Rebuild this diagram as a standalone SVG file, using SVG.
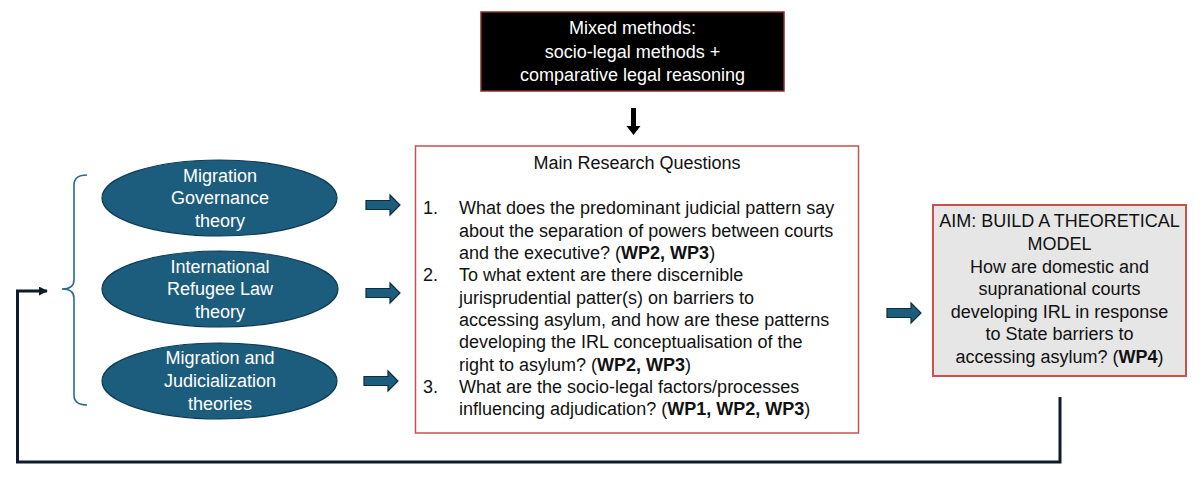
<svg xmlns="http://www.w3.org/2000/svg" width="1200" height="485" viewBox="0 0 1200 485">
<defs>
<style>
text{font-family:"Liberation Sans",Arial,sans-serif;font-size:18px;}
.c{text-anchor:middle;}
.w{fill:#ffffff;}
.k{fill:#111111;}
.b{font-weight:bold;}
.ell{fill:#1c5d7e;stroke:#0d3a52;stroke-width:1.2;}
.blk{fill:#1c5d7e;stroke:#0d2e40;stroke-width:1.2;}
</style>
<path id="barrow" d="M0,-4.5 H24 V-10 L34,0 L24,10 V4.5 H0 Z"/>
<marker id="ah" viewBox="0 0 10 10" refX="9" refY="5" markerWidth="3" markerHeight="3" orient="auto" markerUnits="strokeWidth">
<path d="M0,0 L10,5 L0,10 Z" fill="#0d1b2a"/>
</marker>
</defs>
<rect width="1200" height="485" fill="#ffffff"/>

<g id="methods">
<rect x="481" y="12" width="303" height="79" fill="#000000" stroke="#8b2b2b" stroke-width="1.5"/>
<text class="c w" x="632.5" y="34">Mixed methods:</text>
<text class="c w" x="632.5" y="58">socio-legal methods +</text>
<text class="c w" x="632.5" y="81">comparative legal reasoning</text>
</g>

<g id="theory-governance">
<ellipse class="ell" cx="219.5" cy="198" rx="117.5" ry="38"/>
<text class="c w" x="220" y="182">Migration</text>
<text class="c w" x="220" y="204">Governance</text>
<text class="c w" x="220" y="227">theory</text>
</g>

<g id="theory-irl">
<ellipse class="ell" cx="220" cy="289" rx="118" ry="38"/>
<text class="c w" x="220" y="273">International</text>
<text class="c w" x="220" y="295">Refugee Law</text>
<text class="c w" x="220" y="318">theory</text>
</g>

<g id="theory-judicialization">
<ellipse class="ell" cx="219.5" cy="381" rx="117.5" ry="38"/>
<text class="c w" x="220" y="364">Migration and</text>
<text class="c w" x="220" y="387">Judicialization</text>
<text class="c w" x="220" y="410">theories</text>
</g>

<g id="questions">
<rect x="415.5" y="146" width="443" height="287" fill="#ffffff" stroke="#c9504d" stroke-width="1.5"/>
<text class="c k" x="637" y="169">Main Research Questions</text>
<text class="k" x="423" y="214">1.</text>
<text class="k" x="459" y="214">What does the predominant judicial pattern say</text>
<text class="k" x="459" y="236.5">about the separation of powers between courts</text>
<text class="k" x="459" y="259">and the executive? (<tspan class="b">WP2, WP3</tspan>)</text>
<text class="k" x="423" y="281">2.</text>
<text class="k" x="459" y="281">To what extent are there discernible</text>
<text class="k" x="459" y="303.5">jurisprudential patter(s) on barriers to</text>
<text class="k" x="459" y="326">accessing asylum, and how are these patterns</text>
<text class="k" x="459" y="348">developing the IRL conceptualisation of the</text>
<text class="k" x="459" y="370.5">right to asylum? (<tspan class="b">WP2, WP3</tspan>)</text>
<text class="k" x="423" y="393">3.</text>
<text class="k" x="459" y="393">What are the socio-legal factors/processes</text>
<text class="k" x="459" y="415">influencing adjudication? (<tspan class="b">WP1, WP2, WP3</tspan>)</text>
</g>

<g id="aim">
<rect x="933" y="205" width="253" height="171" fill="#e7e6e6" stroke="#c9504d" stroke-width="2"/>
<text class="c k" x="1059.5" y="227">AIM: BUILD A THEORETICAL</text>
<text class="c k" x="1059.5" y="250">MODEL</text>
<text class="c k" x="1059.5" y="272.5">How are domestic and</text>
<text class="c k" x="1059.5" y="295">supranational courts</text>
<text class="c k" x="1059.5" y="317.5">developing IRL in response</text>
<text class="c k" x="1059.5" y="340">to State barriers to</text>
<text class="c k" x="1059.5" y="362.5">accessing asylum? (<tspan class="b">WP4</tspan>)</text>
</g>

<g id="connectors">
<path d="M631,108 H636 V126 H640.5 L633.5,135 L626.5,126 H631 Z" fill="#000000"/>
<use href="#barrow" class="blk" x="366" y="205"/>
<use href="#barrow" class="blk" x="366" y="293"/>
<use href="#barrow" class="blk" x="364" y="381"/>
<use href="#barrow" class="blk" x="887" y="313"/>
<path d="M87,175 Q74,175 74,185 V280 Q74,289 62,289 Q74,289 74,298 V395 Q74,405 87,405" fill="none" stroke="#2a6a8c" stroke-width="1.6"/>
<path d="M1060,397 V462 H17.5 V291 H47" fill="none" stroke="#0d1b2a" stroke-width="3" marker-end="url(#ah)"/>
</g>
</svg>
